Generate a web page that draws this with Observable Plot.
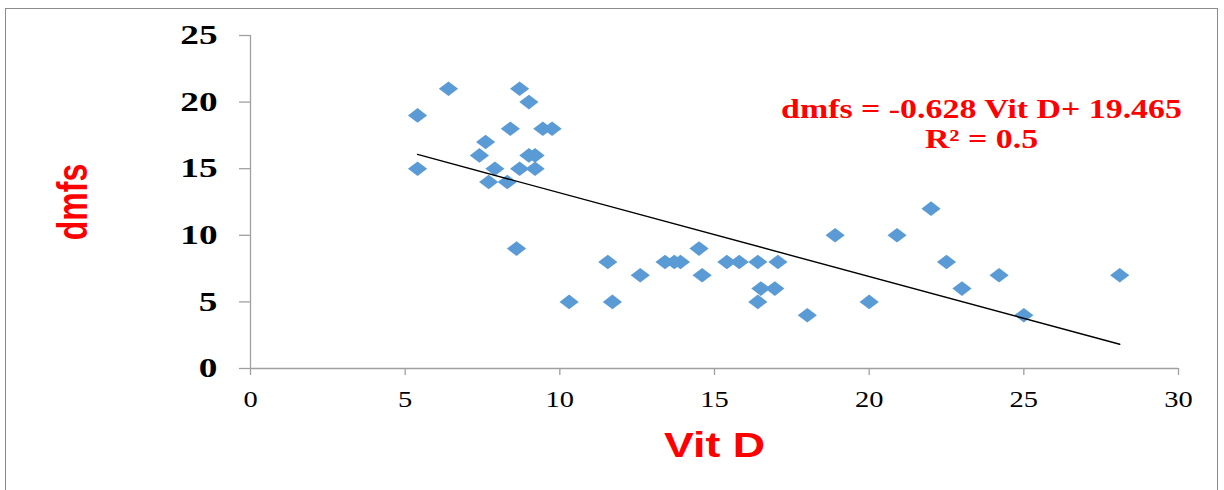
<!DOCTYPE html>
<html>
<head>
<meta charset="utf-8">
<script src="https://cdn.jsdelivr.net/npm/d3@7"></script>
<script src="https://cdn.jsdelivr.net/npm/@observablehq/plot@0.6"></script>
<style>
  html, body { margin: 0; padding: 0; background: #fff; }
  #wrap { position: relative; width: 1224px; height: 490px; overflow: hidden; background: #fff; }
  #frame { position: absolute; left: 5px; top: 8px; width: 1213px; height: 520px; border: 1.5px solid #8c8c8c; box-sizing: border-box; }
  #wrap svg { position: absolute; left: 0; top: 0; }
</style>
</head>
<body>
<div id="wrap"><div id="frame"></div></div>
<script>
// ---- data ----
const vitD = [5.4, 5.4, 6.4, 7.4, 7.6, 7.7, 7.9, 8.3, 8.4, 8.6, 8.7, 8.7, 9.0, 9.0, 9.2, 9.2, 9.45, 9.75,
              10.3, 11.55, 11.7, 12.6, 13.4, 13.7, 13.9, 14.5, 14.6, 15.4, 15.8, 16.4, 17.05, 16.5, 16.95, 16.4,
              18.0, 18.9, 20.0, 20.9, 22.0, 22.5, 23.0, 24.2, 25.0, 28.1];
const dmfs = [19, 15, 21, 16, 17, 14, 15, 14, 18, 9, 21, 15, 20, 16, 16, 15, 18, 18,
              5, 8, 5, 7, 8, 8, 8, 9, 7, 8, 8, 8, 8, 6, 6, 5,
              4, 10, 5, 10, 12, 8, 6, 7, 4, 7];
const slope = -0.628;
const intercept = 19.465;
const xTicks = [0, 5, 10, 15, 20, 25, 30];
const yTicks = [0, 5, 10, 15, 20, 25];
const xTitle = "Vit D";
const yTitle = "dmfs";
const equationText = ["dmfs = -0.628 Vit D+ 19.465\nR² = 0.5"];

const points = vitD.map((v, i) => ({x: v, y: dmfs[i]}));
const xMin = d3.min(vitD), xMax = d3.max(vitD);
const trend = [xMin, xMax].map(x => ({x, y: slope * x + intercept}));

// wide Excel-like diamond marker
const wideDiamond = {
  draw(context, size) {
    const r = Math.sqrt(size / Math.PI);
    const hw = r, hh = r * 0.76;
    context.moveTo(0, -hh);
    context.lineTo(hw, 0);
    context.lineTo(0, hh);
    context.lineTo(-hw, 0);
    context.closePath();
  }
};

const axisGray = "#a0a0a0";
const serif = "'Liberation Serif', 'Times New Roman', serif";
const sans = "'Liberation Sans', Arial, sans-serif";

const chart = Plot.plot({
  width: 1224,
  height: 490,
  marginLeft: 250,
  marginRight: 46,
  marginTop: 35,
  marginBottom: 122,
  style: {background: "transparent", fontFamily: serif, overflow: "visible"},
  x: {domain: [0, 30]},
  y: {domain: [0, 25]},
  marks: [
    Plot.ruleY([0], {stroke: axisGray, strokeWidth: 1.3}),
    Plot.ruleX([0], {stroke: axisGray, strokeWidth: 1.3}),
    Plot.axisX({ticks: xTicks, tickSize: 7, tickPadding: 15, stroke: axisGray, strokeWidth: 1.3,
                fill: "black", fontSize: 23, fontFamily: serif, label: null, tickFormat: d => String(d)}),
    Plot.axisY({ticks: yTicks, tickSize: 11, tickPadding: 22, stroke: axisGray, strokeWidth: 1.3,
                fill: "black", fontSize: 27, fontWeight: "bold", fontFamily: serif, label: null, tickFormat: d => String(d)}),
    Plot.dot(points, {x: "x", y: "y", symbol: wideDiamond, r: 9.6, fill: "#5b9bd5", stroke: "none"}),
    Plot.line(trend, {x: "x", y: "y", stroke: "black", strokeWidth: 1.4}),
    Plot.text(equationText, {text: d => d, frameAnchor: "top-right", dx: -197, dy: 61, lineAnchor: "top",
                             textAnchor: "middle", lineHeight: 1.11, fill: "#ff0000", fontSize: 27,
                             fontWeight: "bold", fontFamily: serif}),
    Plot.text([xTitle], {text: d => d, frameAnchor: "bottom", dy: 77, lineAnchor: "middle",
                         textAnchor: "middle", fill: "#ff0000", fontSize: 35, fontWeight: "bold",
                         fontFamily: sans}),
    Plot.text([yTitle], {text: d => d, frameAnchor: "left", dx: -177, rotate: -90, lineAnchor: "middle",
                         textAnchor: "middle", fill: "#ff0000", fontSize: 32, fontWeight: "bold",
                         fontFamily: sans})
  ]
});

// horizontal stretch of the text, as in the reference picture
function scaleText(t, sx, sy) {
  const tr = t.getAttribute("transform") || "";
  t.setAttribute("transform", `${tr} scale(${sx},${sy})`);
}
chart.querySelectorAll(`g[aria-label="x-axis tick label"] text`).forEach(t => scaleText(t, 1.24, 1));
chart.querySelectorAll(`g[aria-label="y-axis tick label"] text`).forEach(t => scaleText(t, 1.38, 1));
chart.querySelectorAll("text").forEach(t => {
  const s = t.textContent;
  if (s.startsWith("dmfs =")) scaleText(t, 1.255, 1);
  else if (s === xTitle) scaleText(t, 1.28, 1);
  else if (s === yTitle) scaleText(t, 1, 1.3);
});

document.getElementById("wrap").appendChild(chart);
</script>
</body>
</html>
